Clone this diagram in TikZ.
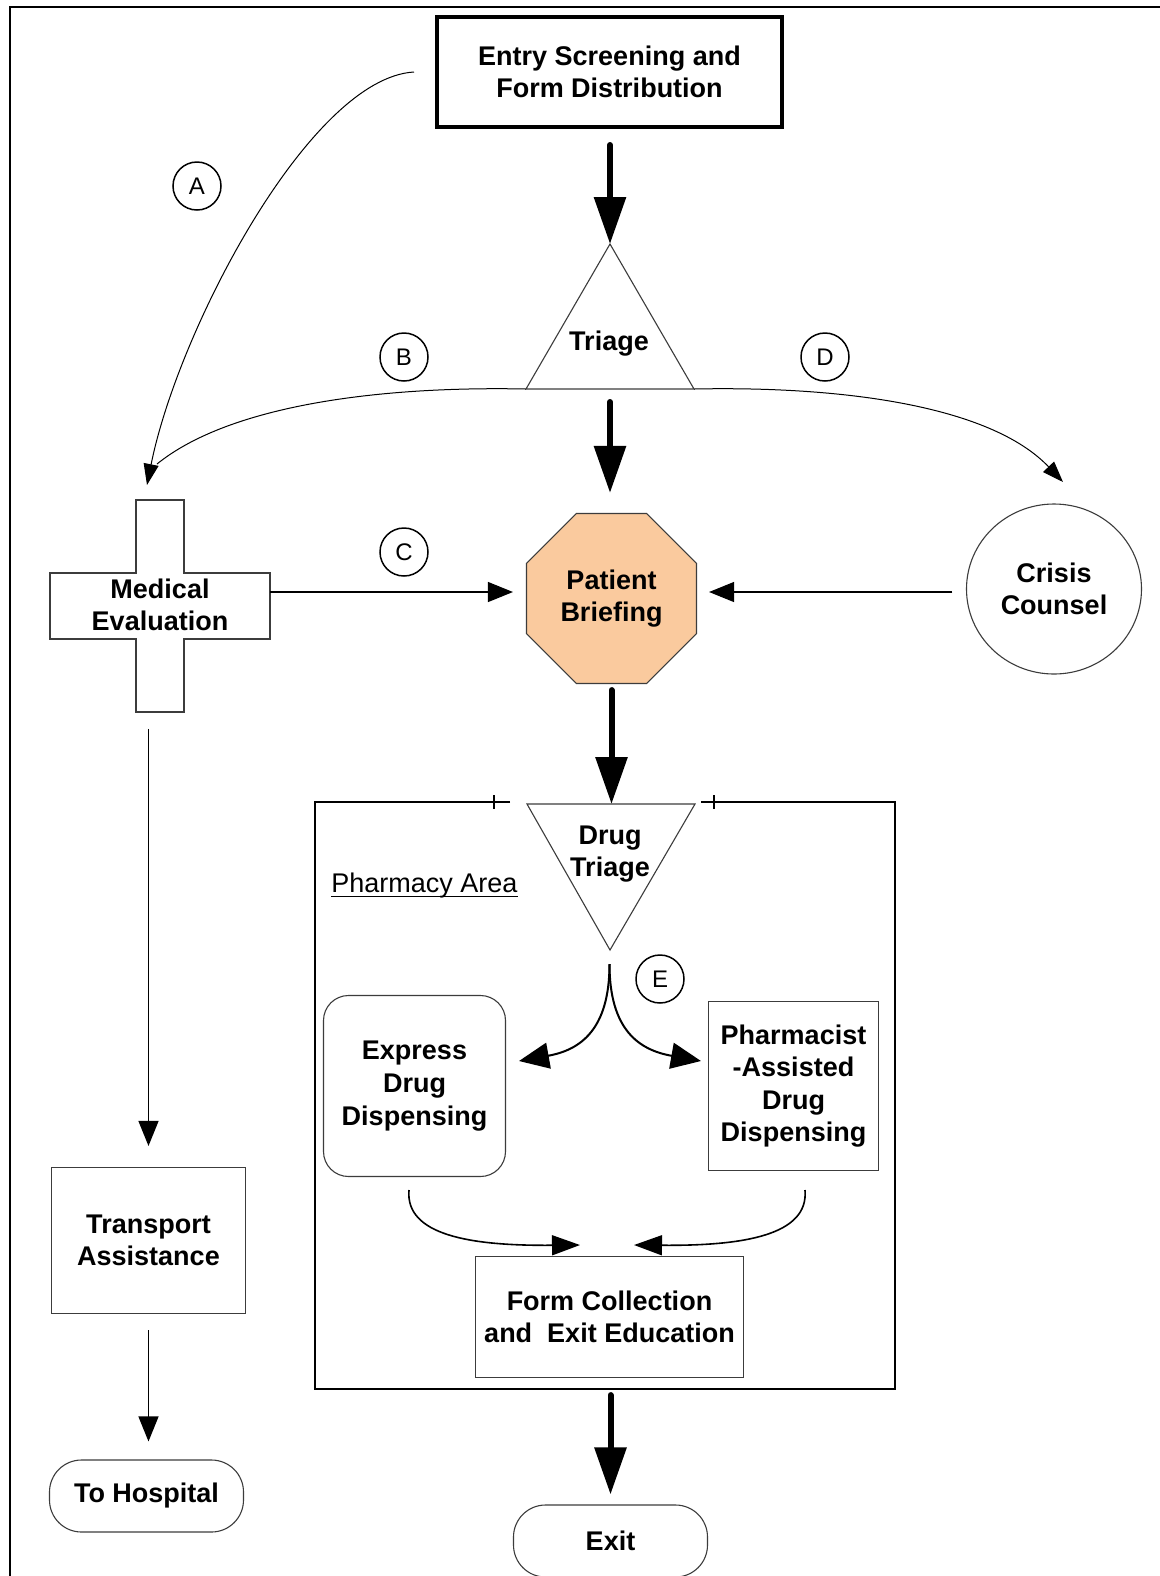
\documentclass[tikz,border=0pt]{standalone}
\usepackage{fontspec}
\setmainfont{Liberation Sans}
\usetikzlibrary{arrows.meta,shapes.geometric}
\definecolor{peach}{RGB}{250,202,158}
\definecolor{outline}{RGB}{60,60,60}
\begin{document}
\begin{tikzpicture}[x=0.5pt,y=-0.5pt,
  lbl/.style={font=\fontsize{13.5}{16.3}\selectfont\bfseries, align=center},
  shapeline/.style={draw=outline, line width=0.55pt},
  box/.style={shapeline, lbl, inner sep=0pt},
  circlbl/.style={circle, draw=black, line width=0.75pt, minimum size=24pt, inner sep=0pt, font=\fontsize{12}{12}\selectfont},
  bigarrow/.style={line width=3pt, line cap=round, -{Triangle[length=23.5pt,width=15.5pt]}},
  thinarrow/.style={line width=0.6pt, -{Triangle[length=12.5pt,width=10pt]}},
  curvearrow/.style={line width=0.5pt, -{Triangle[length=10.5pt,width=7.5pt]}},
  plaincurve/.style={line width=0.5pt},
  earrow/.style={line width=1pt, -{Triangle[length=15pt,width=13pt]}},
  barrow/.style={line width=0.8pt, -{Triangle[length=14pt,width=10pt]}},
]
\useasboundingbox (0,0) rectangle (1160,1576);
\fill[white] (0,0) rectangle (1160,1576);
% outer frame
\draw[line width=1.1pt] (1170,7) -- (10,7) -- (10,1590);

% ---------- nodes ----------
\node[box, draw=black, line width=2pt, minimum width=172.5pt, minimum height=55pt] (entry) at (609.5,72) {Entry Screening and\\Form Distribution};

\coordinate (triA) at (610,244);
\coordinate (triL) at (526,389);
\coordinate (triR) at (694,389);
\draw[shapeline] (triA) -- (triL) -- (triR) -- cycle;
\node[lbl] (triage) at (609,344) {Triage};

\node[shapeline, fill=peach, regular polygon, regular polygon sides=8, minimum size=92pt, inner sep=0pt, lbl] (pb) at (611.5,598.5) {Patient\\Briefing};

% medical cross
\draw[shapeline] (136,500) -- (184,500) -- (184,573) -- (270,573) -- (270,639) -- (184,639) -- (184,712) -- (136,712) -- (136,639) -- (50,639) -- (50,573) -- (136,573) -- cycle;
\node[lbl, minimum width=110pt, minimum height=106pt, inner sep=0pt] (med) at (160,605) {Medical\\Evaluation};

\node[shapeline, ellipse, minimum width=87.5pt, minimum height=85pt, inner sep=0pt, lbl] (cc) at (1054,589) {Crisis\\Counsel};

% pharmacy area
\draw[line width=1pt] (510,802) -- (315,802) -- (315,1389) -- (895,1389) -- (895,802) -- (701,802);
\draw[line width=0.6pt] (494,795) -- (494,809) (714,795) -- (714,809);
\node[anchor=west, inner sep=0pt, font=\fontsize{13.5}{16}\selectfont] (parea) at (331,886) {Pharmacy Area};
\draw[line width=0.6pt] ([yshift=-1.6pt]parea.base west) -- ([yshift=-1.6pt]parea.base east);

\coordinate (dtL) at (527,804);
\coordinate (dtR) at (695,804);
\coordinate (dtA) at (610,950);
\draw[shapeline] (dtL) -- (dtR) -- (dtA) -- cycle;
\node[lbl] (dtri) at (610,854) {Drug\\Triage};

\node[box, rounded corners=12.5pt, minimum width=91pt, minimum height=90.5pt] (exp) at (414.5,1086) {Express\\Drug\\Dispensing};
\node[box, minimum width=85pt, minimum height=84.5pt] (pha) at (793.5,1086) {Pharmacist\\-Assisted\\Drug\\Dispensing};
\node[box, minimum width=134pt, minimum height=60.5pt] (form) at (609.5,1317) {Form Collection\\and~~Exit Education};

\node[box, minimum width=97pt, minimum height=73pt] (trans) at (148.5,1240.5) {Transport\\Assistance};
\node[box, rounded corners=16pt, minimum width=97pt, minimum height=36pt] (hosp) at (146.5,1496) {To Hospital};
\node[box, rounded corners=16pt, minimum width=97pt, minimum height=36pt] (exit) at (610.5,1541) {Exit};

% letter circles
\node[circlbl] (A) at (197,186) {A};
\node[circlbl] (B) at (404,357) {B};
\node[circlbl] (C) at (404,552) {C};
\node[circlbl] (D) at (825,357) {D};
\node[circlbl] (E) at (660,979) {E};

% ---------- connectors ----------
\draw[bigarrow, shorten <=8pt] (triA |- entry.south) -- (triA);
\draw[bigarrow, shorten <=6.5pt, shorten >=10pt] (triA |- triL) -- (triA |- pb.north);
\draw[bigarrow, shorten <=3pt] (pb.south) -- (pb.south |- dtL);
\draw[bigarrow, shorten <=8.5pt, shorten >=5pt] (exit.north |- form.south) -- (exit.north);

\draw[thinarrow, shorten >=6.5pt] ([yshift=6.5pt]med.east) -- ([yshift=6.5pt]med.east -| pb.west);
\draw[thinarrow, shorten <=6.75pt, shorten >=6pt] ([yshift=-1.5pt]cc.west) -- ([yshift=-1.5pt]cc.west -| pb.east);
\draw[thinarrow, shorten <=8.75pt, shorten >=10.5pt] (trans.north |- med.south) -- (trans.north);
\draw[thinarrow, shorten <=8pt, shorten >=9pt] (trans.south) -- (trans.south |- hosp.north);

% curve A, B, D
\coordinate (aStart) at (414,72);
\coordinate (aTip) at (147,485);
\coordinate (bEnd) at (157,464);
\coordinate (dTip) at (1063,482);
\draw[curvearrow] (aStart) .. controls (310,78) and (178,330) .. (aTip);
\draw[plaincurve] (triL) .. controls (380,386) and (230,405) .. (bEnd);
\draw[curvearrow] (triR) .. controls (840,386) and (990,405) .. (dTip);

% E split
\coordinate (eStart) at (609.5,964);
\coordinate (eL) at (519,1061);
\coordinate (eR) at (701,1061);
\draw[earrow] (eStart) .. controls (609.5,1030) and (580,1050) .. (eL);
\draw[earrow] (eStart) .. controls (609.5,1030) and (639,1050) .. (eR);

% merge into form collection
\coordinate (bL) at (409,1190);
\coordinate (fL) at (580,1245);
\coordinate (bR) at (805,1190);
\coordinate (fR) at (634,1245);
\draw[barrow] (bL) .. controls (405,1235) and (470,1246) .. (fL);
\draw[barrow] (bR) .. controls (809,1235) and (744,1246) .. (fR);
\end{tikzpicture}
\end{document}
